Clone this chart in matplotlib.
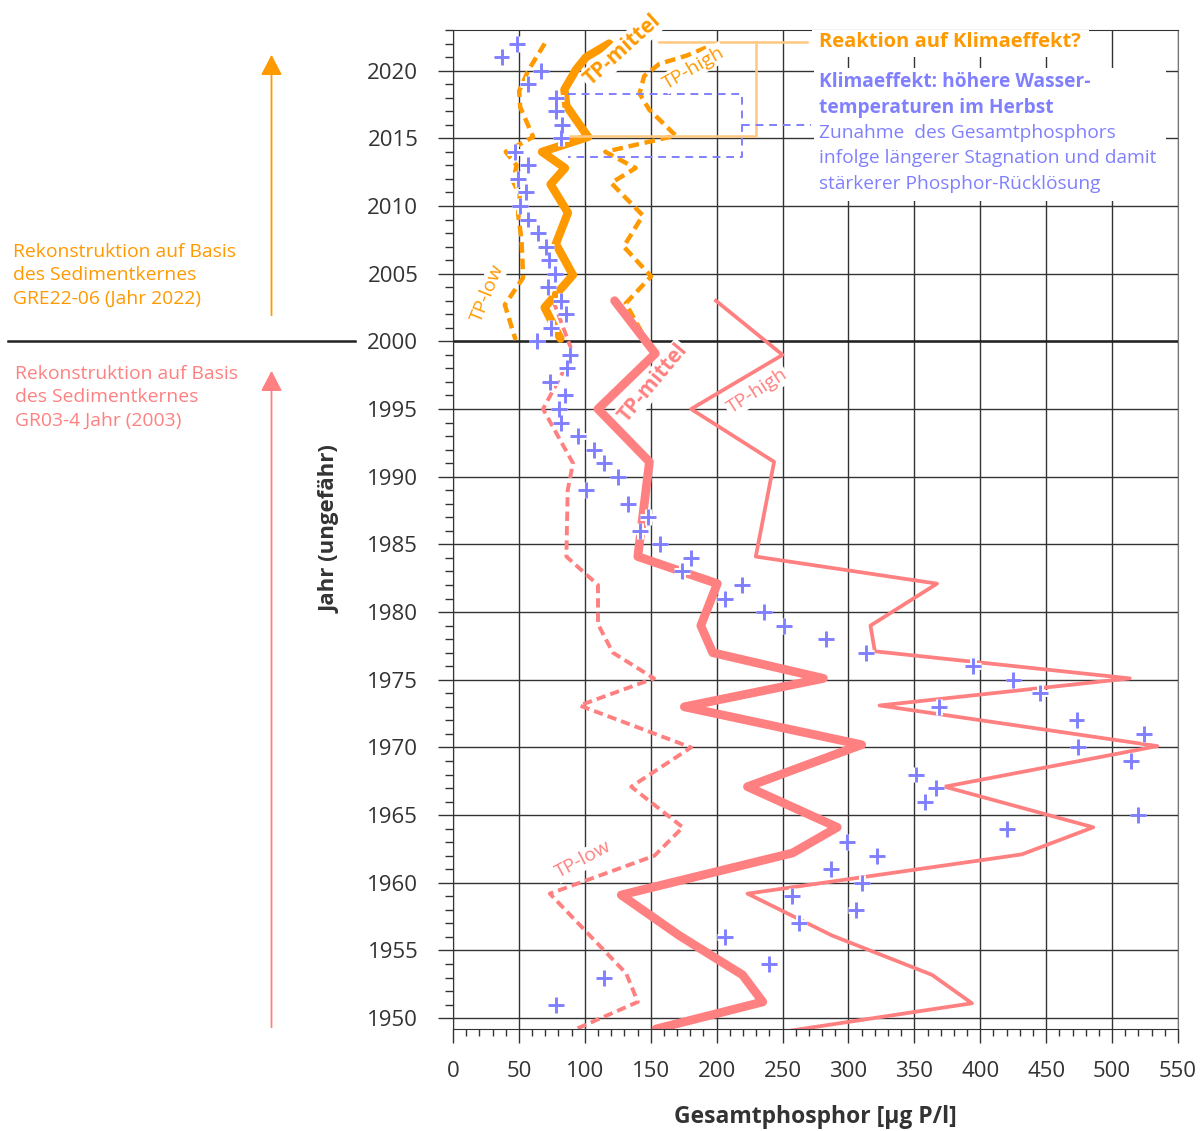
import matplotlib.pyplot as plt
import matplotlib.patheffects as pe
from matplotlib.patches import FancyArrowPatch, Rectangle
from matplotlib.lines import Line2D
from matplotlib.ticker import MultipleLocator

ORANGE = "#FF9900"
ORANGE_LIGHT = "#FFC880"
PINK = "#FF8080"
BLUE = "#8080FF"
TEXT = "#333333"
GRID = "#333333"

W, H = 1200, 1131

plt.rcParams["font.family"] = ["Open Sans", "DejaVu Sans"]

# Kern GRE22-06 (2000-2022)
gre_years_mid = [2022.0, 2021.0, 2020.1, 2018.6, 2017.4, 2015.1, 2014.0, 2012.8, 2011.6, 2009.5, 2007.2, 2004.9, 2002.5, 2000.2]
gre_tp_mid = [118.5, 101, 93.5, 84.5, 86, 102.5, 67.5, 85, 74, 87.2, 78, 91, 69.5, 81.5]

gre_years_low = [2022.0, 2020.0, 2018.5, 2017.3, 2015.1, 2014.0, 2013.0, 2011.8, 2010.8, 2009.4, 2007.5, 2004.7, 2002.7, 2000.1]
gre_tp_low = [69.6, 57, 50.2, 51, 60.8, 40, 48.2, 45.6, 50.7, 49.4, 52, 53.2, 39.3, 47.5]

gre_years_high = [2021.7, 2021.1, 2020.5, 2019.6, 2018.3, 2017.1, 2015.2, 2014.0, 2012.8, 2011.7, 2009.3, 2007.0, 2004.8, 2002.8, 2000.0]
gre_tp_high = [192, 177, 156.6, 145, 141.5, 149, 169, 115.5, 138.5, 120, 144, 129.5, 150.3, 131, 147]

# Kern GR03-4 (1949-2003)
gr_years_mid = [2003.0, 1999.1, 1995.0, 1991.1, 1984.1, 1982.1, 1979.0, 1977.0, 1975.1, 1973.0, 1970.2, 1967.1, 1964.1, 1962.2, 1959.1, 1956.1, 1953.2, 1951.2, 1949.2]
gr_tp_mid = [122.6, 153.5, 110, 149, 140.2, 200.5, 188, 197, 281, 175.5, 310, 223.4, 291.5, 257.5, 127.6, 171.7, 219.6, 235, 154]

gr_years_low = [2003.0, 1999.1, 1995.0, 1991.0, 1989.0, 1984.1, 1982.0, 1979.1, 1977.0, 1975.1, 1973.1, 1970.0, 1967.1, 1964.1, 1962.0, 1959.2, 1953.3, 1951.2, 1949.1]
gr_tp_low = [76, 91, 68.3, 91, 87, 86, 110, 110, 121.3, 152.5, 96, 180.6, 135.2, 174.3, 152.8, 73.4, 131.4, 140.2, 91]

gr_years_high = [2003.0, 1999.0, 1995.0, 1991.1, 1984.1, 1982.1, 1979.0, 1977.1, 1975.1, 1973.1, 1970.1, 1967.1, 1964.1, 1962.1, 1959.2, 1956.1, 1953.2, 1951.1, 1949.1]
gr_tp_high = [199.5, 250, 180.6, 243.6, 229.7, 367.2, 316.7, 320, 513.4, 323.6, 534.4, 373, 485.7, 431.5, 223.4, 287.7, 363.4, 393.7, 257.5]

# Messwerte
meas_years = [2022, 2021, 2020, 2019, 2018, 2017, 2016, 2015, 2014, 2013, 2012, 2011, 2010, 2009, 2008,
              2007, 2006, 2005, 2004, 2003, 2002, 2001, 2000, 1999, 1998, 1997, 1996, 1995, 1994, 1993,
              1992, 1991, 1990, 1989, 1988, 1987, 1986, 1985, 1984, 1983, 1982, 1981, 1980, 1979, 1978,
              1977, 1976, 1975, 1974, 1973, 1972, 1971, 1970, 1969, 1968, 1967, 1966, 1965, 1964, 1963,
              1962, 1961, 1960, 1959, 1958, 1957, 1956, 1954, 1953, 1951]
meas_tp = [48.9, 36.8, 67.1, 57, 77.9, 77.9, 83, 82.2, 46.9, 57, 49.4, 55.2, 50.7, 57, 64.5,
           70.9, 72.9, 77.2, 72.1, 82.2, 86, 74.7, 63.8, 88.5, 86.5, 73.4, 84.7, 80.4, 81.7, 94.8,
           106.7, 114.2, 125, 100.6, 132.6, 147.8, 141.5, 157.4, 180.6, 173.5, 219.2, 206.5, 236, 251.2, 283,
           313, 394.4, 425.2, 445.4, 368.4, 473, 524.3, 474.4, 514.7, 351.3, 366.7, 357.9, 519.8, 420.6, 299,
           321.8, 287, 310, 257, 306, 262.5, 206.3, 239.8, 114.2, 77.9]

x_ticks = list(range(0, 551, 50))
y_ticks = list(range(1950, 2021, 5))


def fp(x, y):
    # pixel position (from top-left) -> figure fraction
    return x / W, 1 - y / H


fig = plt.figure(figsize=(W / 100, H / 100), dpi=100)
fig.patch.set_facecolor("white")
ax = fig.add_axes([453 / W, 1 - 1029 / H, (1178 - 453) / W, (1029 - 30) / H])

ax.set_xlim(0, 550)
ax.set_ylim(1949.2, 2023.0)
ax.set_xticks(x_ticks)
ax.set_yticks(y_ticks)
ax.xaxis.set_minor_locator(MultipleLocator(10))
ax.yaxis.set_minor_locator(MultipleLocator(1))
ax.grid(True, which="major", color=GRID, linewidth=1.0)
ax.set_axisbelow(True)
for side in ["left", "bottom", "top"]:
    ax.spines[side].set_color(TEXT)
ax.spines["right"].set_color("#777777")

ax.tick_params(axis="y", which="major", direction="out", length=11, width=1, color=TEXT,
               labelsize=16, labelcolor=TEXT, pad=14)
ax.tick_params(axis="y", which="minor", direction="out", length=5.5, width=1, color=TEXT)
ax.tick_params(axis="x", which="major", direction="out", length=10, width=1, color=TEXT,
               labelsize=16, labelcolor=TEXT, pad=13)
ax.tick_params(axis="x", which="minor", direction="out", length=5, width=1, color=TEXT)

# Trennlinie 2000
ax.axhline(2000, color="#222222", linewidth=1.8, zorder=1.5)
fig.add_artist(Line2D([8 / W, 355 / W], [1 - 341 / H, 1 - 341 / H], color="#222222", linewidth=1.8))

dash = (2.4, 1.3)
# GRE22-06
ax.plot(gre_tp_low, gre_years_low, color=ORANGE, lw=3.2, dashes=dash, zorder=2)
ax.plot(gre_tp_high, gre_years_high, color=ORANGE, lw=3.2, dashes=dash, zorder=2)
ax.plot(gre_tp_mid, gre_years_mid, color=ORANGE, lw=6, solid_capstyle="round", zorder=2.2)
# GR03-4
ax.plot(gr_tp_low, gr_years_low, color=PINK, lw=2.8, dashes=dash, zorder=2)
ax.plot(gr_tp_high, gr_years_high, color=PINK, lw=2.7, zorder=2)
ax.plot(gr_tp_mid, gr_years_mid, color=PINK, lw=6.3, solid_capstyle="round", zorder=2.1)

ax.plot(meas_tp, meas_years, ls="none", marker="+", ms=11.5, mew=2.1, color=BLUE, zorder=5,
        path_effects=[pe.Stroke(linewidth=5, foreground="white"), pe.Normal()])

# Kasten "Reaktion auf Klimaeffekt?"
ax.plot([156.6, 268.6], [2022.1, 2022.1], color=ORANGE_LIGHT, lw=1.8, zorder=2.5)
ax.plot([230, 230, 87], [2022.1, 2015.15, 2015.15], color=ORANGE_LIGHT, lw=1.8, zorder=2.5)
# Kasten Klimaeffekt
ax.plot([87, 219.2, 219.2, 87], [2018.3, 2018.3, 2013.6, 2013.6], color=BLUE, lw=1.4,
        dashes=(4, 3), zorder=2.5)
ax.plot([219.2, 271.6], [2016.0, 2016.0], color=BLUE, lw=1.4, dashes=(4, 3), zorder=2.5)

ax.add_patch(Rectangle((272.4, 2021.0), 210, 3, facecolor="white", edgecolor="none", zorder=3))
ax.add_patch(Rectangle((274, 2010.4), 267, 9.8, facecolor="white", edgecolor="none", zorder=3))
ax.text(277.6, 2022.1, "Reaktion auf Klimaeffekt?", color=ORANGE, fontsize=14.5, weight="bold",
        ha="left", va="center", zorder=4)
blue_lines = [
    ("Klimaeffekt: höhere Wasser-", "bold", 2019.13),
    ("temperaturen im Herbst", "bold", 2017.21),
    ("Zunahme  des Gesamtphosphors", "normal", 2015.36),
    ("infolge längerer Stagnation und damit", "normal", 2013.51),
    ("stärkerer Phosphor-Rücklösung", "normal", 2011.66),
]
for line, weight, yy in blue_lines:
    ax.text(277.6, yy, line, color=BLUE, fontsize=13.8, weight=weight, ha="left", va="center", zorder=4)

# Linienbeschriftungen
label_box = dict(facecolor="white", edgecolor="none", pad=1.0)
ax.text(128.5, 2021.5, "TP-mittel", color=ORANGE, fontsize=15, weight="bold", rotation=42,
        ha="center", va="center", bbox=label_box, zorder=3.5)
ax.text(182.5, 2020.2, "TP-high", color=ORANGE, fontsize=14, rotation=30,
        ha="center", va="center", bbox=label_box, zorder=3.5)
ax.text(26.5, 2003.6, "TP-low", color=ORANGE, fontsize=14, rotation=68,
        ha="center", va="center", bbox=label_box, zorder=3.5)
ax.text(151.5, 1996.9, "TP-mittel", color=PINK, fontsize=15, weight="bold", rotation=50,
        ha="center", va="center", bbox=label_box, zorder=3.5)
ax.text(230.7, 1996.3, "TP-high", color=PINK, fontsize=14, rotation=33,
        ha="center", va="center", bbox=label_box, zorder=3.5)
ax.text(99.1, 1961.7, "TP-low", color=PINK, fontsize=14, rotation=28,
        ha="center", va="center", bbox=label_box, zorder=3.5)

# Achsenbeschriftungen
fig.text(*fp(815, 1117), "Gesamtphosphor [µg P/l]", fontsize=16.5, weight="bold", color=TEXT,
         ha="center", va="center")
fig.text(*fp(330, 529), "Jahr (ungefähr)", fontsize=16, weight="bold", color=TEXT,
         rotation=90, ha="center", va="center")

# linke Seite: Herkunft der Rekonstruktion
fig.text(*fp(13, 275), "Rekonstruktion auf Basis\ndes Sedimentkernes\nGRE22-06 (Jahr 2022)",
         fontsize=13.9, color=ORANGE, ha="left", va="center", linespacing=1.38)
fig.text(*fp(15, 397), "Rekonstruktion auf Basis\ndes Sedimentkernes\nGR03-4 Jahr (2003)",
         fontsize=13.9, color=PINK, ha="left", va="center", linespacing=1.38)

fig.add_artist(FancyArrowPatch(fp(271.5, 318), fp(271.5, 52), transform=fig.transFigure,
                               arrowstyle="-|>,head_length=1.25,head_width=0.65", mutation_scale=10,
                               color=ORANGE, linewidth=1.3))
fig.add_artist(FancyArrowPatch(fp(271.5, 1030), fp(271.5, 368), transform=fig.transFigure,
                               arrowstyle="-|>,head_length=1.25,head_width=0.65", mutation_scale=10,
                               color=PINK, linewidth=1.3))

fig.savefig("out.png", dpi=100, facecolor="white")
